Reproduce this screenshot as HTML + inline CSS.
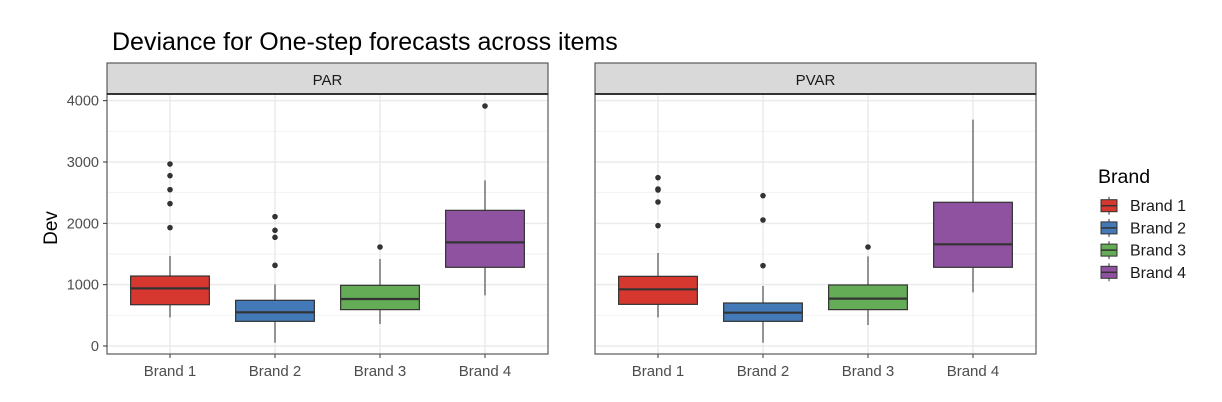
<!DOCTYPE html>
<html><head><meta charset="utf-8"><style>
body{margin:0;background:#fff;}
svg{display:block;font-family:"Liberation Sans",Arial,sans-serif;}
</style></head><body>
<svg id="chart" width="1222" height="402" viewBox="0 0 1222 402">
<text x="112" y="50" font-size="25" fill="#000">Deviance for One-step forecasts across items</text>
<text transform="translate(57,228) rotate(-90)" text-anchor="middle" font-size="19" fill="#000">Dev</text>
<g id="panels"></g>
<g>
<text x="1098" y="183" font-size="19.5" fill="#000">Brand</text>
<g id="legend-items"></g>
</g>
</svg>
<script>
const categories = ["Brand 1","Brand 2","Brand 3","Brand 4"];
const colors = ["#d6372e","#4279b6","#64ac56","#8f52a0"];
const yTicks = [0,1000,2000,3000,4000];
const facets = ["PAR","PVAR"];
// [lowerWhisker, q1, median, q3, upperWhisker]
const parStats = [[467,673,940,1141,1467],[55,402,549,745,1005],[359,593,766,989,1418],[826,1283,1690,2212,2701]];
const parOutliers = [[2967,2777,2549,2321,1930],[2109,1886,1772,1315],[1614],[3913]];
const pvarStats = [[467,679,924,1136,1516],[55,402,543,701,978],[342,593,772,995,1462],[875,1283,1658,2343,3690]];
const pvarOutliers = [[2745,2560,2544,2348,1962],[2451,2054,1310],[1614],[]];

const NS="http://www.w3.org/2000/svg";
function mk(tag,attrs,parent){const e=document.createElementNS(NS,tag);for(const k in attrs)e.setAttribute(k,attrs[k]);parent.appendChild(e);return e;}
const yTop=94, yBot=354;
function y(v){return 346 - v*0.061333;}
const panelX=[107,595], panelW=441;
const statsArr=[parStats,pvarStats], outArr=[parOutliers,pvarOutliers];
const root=document.getElementById('panels');
facets.forEach((f,pi)=>{
  const x0=panelX[pi];
  const step=panelW/4.2;
  const xc=i=>x0+step*(0.6+i);
  const g=mk('g',{},root);
  
  
  mk('rect',{x:x0,y:yTop,width:panelW,height:yBot-yTop,fill:'#fff'},g);
  for(let v=500;v<=4500;v+=1000){const yy=y(v);if(yy>yTop){const l=mk('line',{x1:x0,x2:x0+panelW,y1:yy,y2:yy,stroke:'#f2f2f2','stroke-width':1},g);}}
  yTicks.forEach(v=>{const l=mk('line',{x1:x0,x2:x0+panelW,y1:y(v),y2:y(v),stroke:'#ebebeb','stroke-width':1.5},g);});
  categories.forEach((c,i)=>{const l=mk('line',{x1:xc(i),x2:xc(i),y1:yTop,y2:yBot,stroke:'#ebebeb','stroke-width':1.5},g);});
  const bw=step*0.75;
  categories.forEach((c,i)=>{
    const s=statsArr[pi][i];const cx=xc(i);
    const bg=mk('g',{},g);
    
    
    mk('line',{x1:cx,x2:cx,y1:y(s[0]),y2:y(s[1]),stroke:'#333','stroke-width':1},bg);
    mk('line',{x1:cx,x2:cx,y1:y(s[3]),y2:y(s[4]),stroke:'#333','stroke-width':1},bg);
    mk('rect',{x:cx-bw/2,y:y(s[3]),width:bw,height:y(s[1])-y(s[3]),fill:colors[i],stroke:'#333','stroke-width':1.2},bg);
    mk('line',{x1:cx-bw/2,x2:cx+bw/2,y1:y(s[2]),y2:y(s[2]),stroke:'#333','stroke-width':2.2},bg);
    outArr[pi][i].forEach(v=>{const p=mk('circle',{cx:cx,cy:y(v),r:2.8,fill:'#333'},bg);});
    const t=mk('text',{x:cx,y:376,'text-anchor':'middle','font-size':15,fill:'#4d4d4d'},g);t.textContent=c;
    
    mk('line',{x1:cx,x2:cx,y1:yBot,y2:yBot+4,stroke:'#333','stroke-width':1},g);
  });
  mk('rect',{x:x0,y:yTop,width:panelW,height:yBot-yTop,fill:'none',stroke:'#5a5a5a','stroke-width':1.2},g);
  const st=mk('rect',{x:x0,y:63,width:panelW,height:31,fill:'#d9d9d9',stroke:'#5a5a5a','stroke-width':1.2},g);
  
  mk('line',{x1:x0,x2:x0+panelW,y1:94,y2:94,stroke:'#333','stroke-width':2},g);
  const stt=mk('text',{x:x0+panelW/2,y:85,'text-anchor':'middle','font-size':15,fill:'#1a1a1a'},g);stt.textContent=f;
  
  if(pi===0){yTicks.forEach(v=>{const t=mk('text',{x:99,y:y(v)+5,'text-anchor':'end','font-size':14.5,fill:'#4d4d4d'},root);t.textContent=v;
    
    mk('line',{x1:103,x2:107,y1:y(v),y2:y(v),stroke:'#333','stroke-width':1},root);});}
});
const lg=document.getElementById('legend-items');
categories.forEach((c,i)=>{
  const cy=205.7+i*22.2;
  const g=mk('g',{},lg);
  
  
  mk('line',{x1:1109,x2:1109,y1:cy-9,y2:cy+9,stroke:'#333','stroke-width':1},g);
  mk('rect',{x:1101,y:cy-6,width:16,height:12,fill:colors[i],stroke:'#333','stroke-width':1},g);
  mk('line',{x1:1101,x2:1117,y1:cy,y2:cy,stroke:'#333','stroke-width':1.5},g);
  const t=mk('text',{x:1130,y:cy+5.5,'font-size':16,fill:'#1a1a1a'},g);t.textContent=c;
});
</script>
</body></html>
